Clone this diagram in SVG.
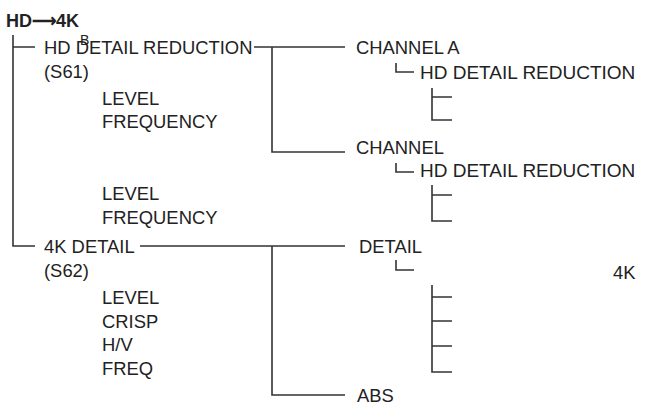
<svg xmlns="http://www.w3.org/2000/svg" width="651" height="409" viewBox="0 0 651 409">
<style>
text{font-family:"Liberation Sans",Arial,sans-serif;font-size:18.4px;fill:#222}
.b{font-weight:bold;font-size:18px}
.r{font-size:19px}
path{fill:none;stroke:#333;stroke-width:1.6}
</style>
<rect width="651" height="409" fill="#fff"/>
<g id="connectors">
<path d="M13 35V246H35M13 47H35"/>
<path d="M254 47H345M272 47V152H345"/>
<path d="M140 246H345M272 246V395H345"/>
<path d="M396 63V72H414M432 88V120H452M432 97H452"/>
<path d="M396 163V172H414M432 185V221H452M432 195H452"/>
<path d="M396 260V270H414M432 285V372H452M432 297H452M432 321H452M432 346H452"/>
</g>
<g id="title"><text x="6" y="27" class="b">HD<tspan style="font-size:17px">⟶</tspan>4K</text><text x="80" y="45" style="font-size:14px">B</text></g>
<g id="hd"><text x="44" y="54">HD DETAIL REDUCTION</text><text x="44" y="78">(S61)</text><text x="102" y="105">LEVEL</text><text x="102" y="128">FREQUENCY</text><text x="102" y="200">LEVEL</text><text x="102" y="224">FREQUENCY</text></g>
<g id="k4"><text x="44" y="253">4K DETAIL</text><text x="44" y="277">(S62)</text><text x="102" y="304">LEVEL</text><text x="102" y="328">CRISP</text><text x="102" y="351">H/V</text><text x="102" y="375">FREQ</text></g>
<g id="cha"><text x="356" y="54">CHANNEL A</text><text x="420" y="79" class="r">HD DETAIL REDUCTION</text></g>
<g id="chb"><text x="356" y="154">CHANNEL</text><text x="420" y="177" class="r">HD DETAIL REDUCTION</text></g>
<g id="detail"><text x="359" y="253">DETAIL</text><text x="613" y="279">4K</text></g>
<g id="abs"><text x="357" y="402">ABS</text></g>
</svg>
